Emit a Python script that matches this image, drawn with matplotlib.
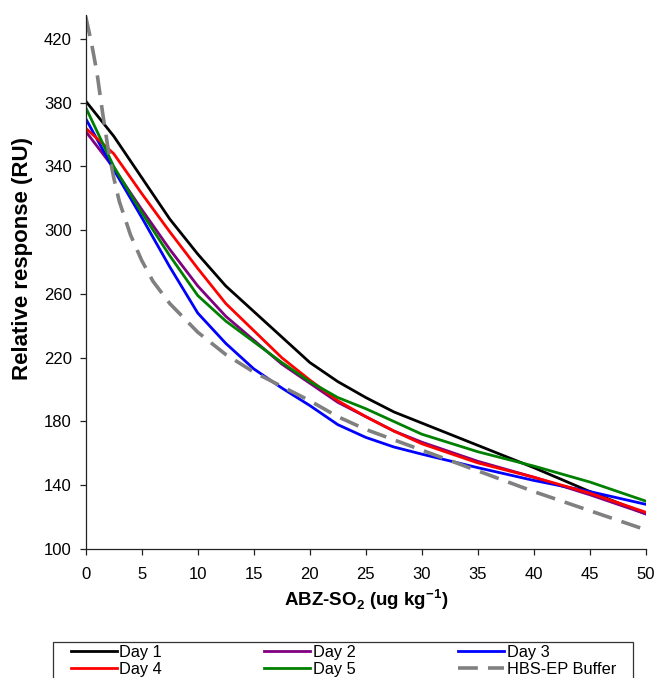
import matplotlib
matplotlib.use("Agg")
import matplotlib.pyplot as plt
from matplotlib.patches import Rectangle

# ---- data ----
x_days = [0, 2.5, 5, 7.5, 10, 12.5, 15, 17.5, 20, 22.5, 25, 27.5, 30, 35, 40, 45, 50]
day1 = [381, 359, 333, 307, 285, 265, 249, 233, 217, 205, 195, 186, 179, 165, 151, 136, 122]
day2 = [362, 339, 313, 288, 265, 246, 231, 216, 204, 192, 183, 174, 167, 155, 145, 134, 122]
day3 = [370, 338, 308, 277, 248, 229, 213, 201, 190, 178, 170, 164, 159.5, 151, 143, 136, 128]
day4 = [364, 348, 323, 299, 276, 254, 237, 220, 206, 193, 183, 174, 166, 154, 145, 135, 123]
day5 = [377, 340, 311, 284, 259, 243, 230, 217, 205, 195, 188, 180, 172, 161, 152, 142, 130]

x_buffer = [0, 0.5, 1, 1.5, 2, 2.5, 3, 4, 5, 6, 7.5, 10, 12.5, 15, 17.5, 20, 22.5, 25, 30, 35, 40, 45, 50]
buffer = [434, 418, 399, 374, 351, 333, 318, 297, 281, 268, 254, 236, 222, 211, 202, 193, 183, 175, 162, 149, 136, 124, 112]

x_ticks = list(range(0, 51, 5))
y_ticks = list(range(100, 421, 40))

plt.rcParams["font.family"] = ["Liberation Sans", "DejaVu Sans"]
plt.rcParams["mathtext.fontset"] = "custom"
plt.rcParams["mathtext.rm"] = "Liberation Sans:bold"
plt.rcParams["mathtext.bf"] = "Liberation Sans:bold"

W, H = 659, 678
fig = plt.figure(figsize=(W / 100, H / 100), dpi=100)
ax = fig.add_axes([85.7 / W, 1 - 549 / H, (646 - 85.7) / W, (549 - 15) / H])

lw = 2.0
l1, = ax.plot(x_days, day1, color="black", lw=lw, label="Day 1")
l2, = ax.plot(x_days, day2, color="#800080", lw=lw, label="Day 2")
l3, = ax.plot(x_days, day3, color="#0000ff", lw=lw, label="Day 3")
l4, = ax.plot(x_days, day4, color="#ff0000", lw=lw, label="Day 4")
l5, = ax.plot(x_days, day5, color="#008000", lw=lw, label="Day 5")
lb, = ax.plot(x_buffer, buffer, color="#808080", lw=2.6, ls=(0, (5.5, 2.8)),
              label="HBS-EP Buffer")

ax.set_xlim(0, 50)
ax.set_ylim(100, 435)
ax.set_xticks(x_ticks)
ax.set_yticks(y_ticks)
ax.spines["top"].set_visible(False)
ax.spines["right"].set_visible(False)
for s in ("left", "bottom"):
    ax.spines[s].set_linewidth(0.9)
    ax.spines[s].set_color("#222222")
ax.tick_params(axis="both", direction="out", length=4, width=0.9, labelsize=12, color="#222222")
ax.tick_params(axis="x", pad=9)
ax.tick_params(axis="y", pad=6)

ax.set_xlabel(r"ABZ-SO$_{2}$ (ug kg$^{-1}$)", fontsize=13.5, fontweight="bold", labelpad=4)
ax.set_ylabel("Relative response (RU)", fontsize=16, fontweight="bold")
ax.yaxis.set_label_coords(-0.094, (549 - 259) / (549 - 15))

# legend: filled column-wise, so order handles to get rows Day1-3 / Day4, Day5, Buffer
handles = [l1, l4, l2, l5, l3, lb]
leg = fig.legend(handles=handles, labels=[h.get_label() for h in handles],
                 ncol=3, loc="upper left", bbox_to_anchor=(70.7 / W, 1 - 645 / H),
                 frameon=False, fontsize=11.8, handlelength=2.8, handletextpad=0.15,
                 columnspacing=6.26, labelspacing=0.1, borderpad=0, borderaxespad=0)
fig.patches.append(Rectangle((52.7 / W, 1 - 720 / H), (632.7 - 52.7) / W, (720 - 641.5) / H,
                             transform=fig.transFigure, fill=False, edgecolor="#333333", lw=0.9))

fig.savefig("out.png", dpi=100)
